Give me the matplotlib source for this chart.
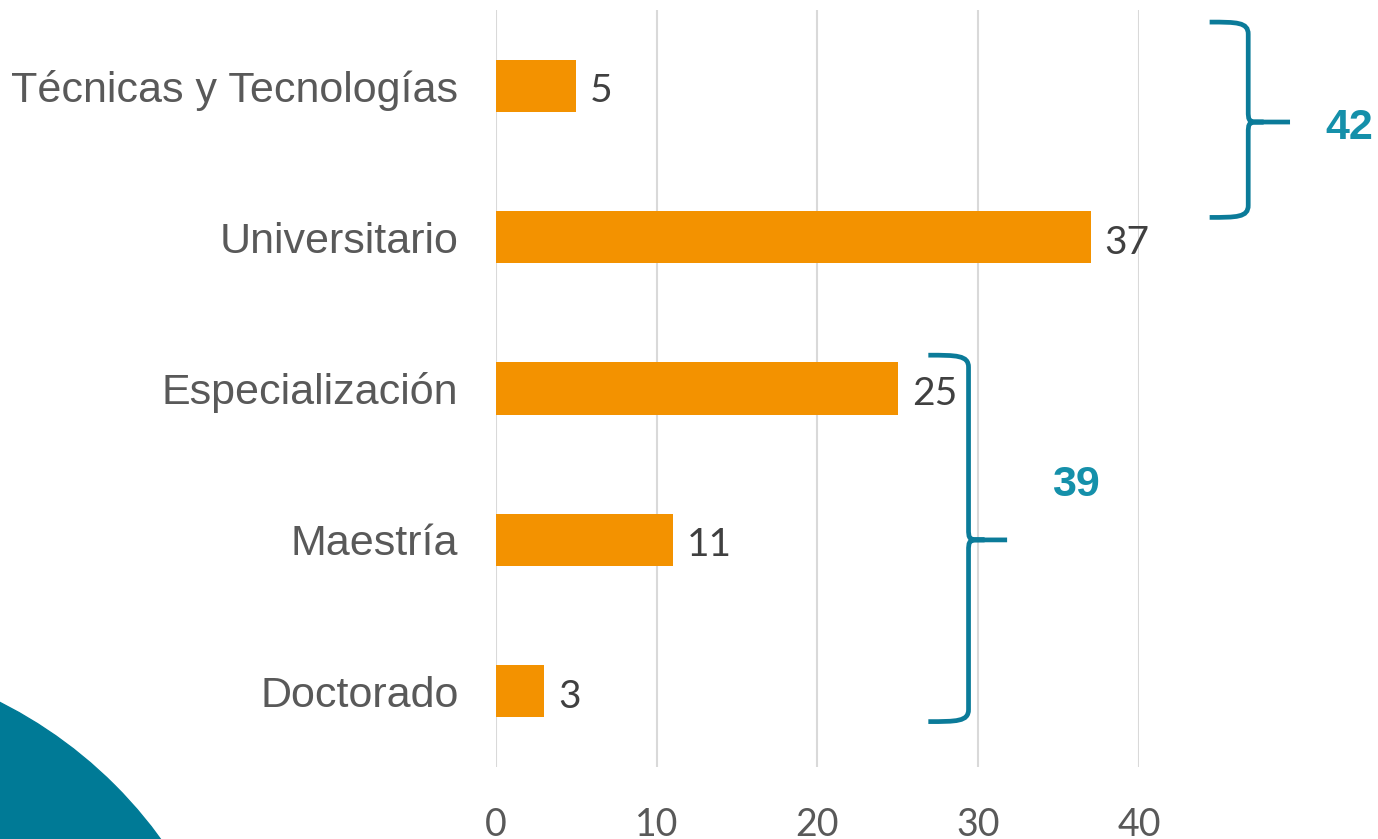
import matplotlib.pyplot as plt
from matplotlib.path import Path
from matplotlib.patches import PathPatch, Ellipse

# datos
categorias = ["Técnicas y Tecnologías", "Universitario", "Especialización", "Maestría", "Doctorado"]
valores = [5, 37, 25, 11, 3]
ticks_x = [0, 10, 20, 30, 40]
totales = [42, 39]

naranja = "#F39200"
azul = "#0B7B99"
azul_txt = "#1590AA"

fig = plt.figure(figsize=(13.78, 8.39), dpi=100)
ax = fig.add_axes([0.3599, 0.0858, 0.4666, 0.9023])

y = list(range(len(categorias)))
ax.barh(y, valores, height=0.345, color=naranja, zorder=3)
ax.set_ylim(len(categorias) - 0.5, -0.5)
ax.set_xlim(0, 40)

ax.set_yticks(y)
ax.set_yticklabels(categorias, fontsize=31, color="#595959", family="Liberation Sans")
ax.set_xticks(ticks_x)
ax.set_xticklabels([str(t) for t in ticks_x], fontsize=27, color="#595959", family="Lato")
ax.tick_params(axis="y", length=0, pad=27)
ax.tick_params(axis="x", length=0, pad=29)
ax.grid(axis="x", color="#D9D9D9", lw=1.5, zorder=0)
for s in ax.spines.values():
    s.set_visible(False)

# etiquetas de valor
for i, v in enumerate(valores):
    ax.annotate(str(v), (v, i), xytext=(10, -4), textcoords="offset points",
                ha="left", va="center", fontsize=28, color="#404040", family="Lato")


def llave(ax, x0, xv, xt, y0, ym, y1, d=0.08):
    w = xv - x0
    verts = [
        (x0, y0), (xv - 0.3 * w, y0), (xv, y0), (xv, y0 + d),
        (xv, ym - d),
        (xv, ym), (xv, ym), (xv + 0.4 * w, ym),
        (xt, ym),
        (xv + 0.4 * w, ym),
        (xv, ym), (xv, ym), (xv, ym + d),
        (xv, y1 - d),
        (xv, y1), (xv - 0.3 * w, y1), (x0, y1),
    ]
    codes = [Path.MOVETO, Path.CURVE4, Path.CURVE4, Path.CURVE4,
             Path.LINETO,
             Path.CURVE4, Path.CURVE4, Path.CURVE4,
             Path.LINETO,
             Path.MOVETO,
             Path.CURVE4, Path.CURVE4, Path.CURVE4,
             Path.LINETO,
             Path.CURVE4, Path.CURVE4, Path.CURVE4]
    p = PathPatch(Path(verts, codes), fill=False, ec=azul, lw=3.4,
                  clip_on=False, zorder=4, capstyle="butt")
    ax.add_patch(p)


llave(ax, 44.4, 46.8, 49.4, -0.42, 0.24, 0.87)
llave(ax, 26.9, 29.4, 31.8, 1.78, 3.0, 4.2)

ax.text(53.1, 0.28, str(totales[0]), fontsize=31, fontweight="bold", color=azul_txt,
        ha="center", va="center", family="Liberation Sans", clip_on=False)
ax.text(36.1, 2.64, str(totales[1]), fontsize=31, fontweight="bold", color=azul_txt,
        ha="center", va="center", family="Liberation Sans", clip_on=False)

# circulo decorativo abajo a la izquierda
r = 445
circ = Ellipse((-200 / 1378, 1 - 1100 / 839), 2 * r / 1378, 2 * r / 839,
               transform=fig.transFigure, color="#007A96", zorder=0)
fig.patches.append(circ)

fig.savefig("out.png", dpi=100)
